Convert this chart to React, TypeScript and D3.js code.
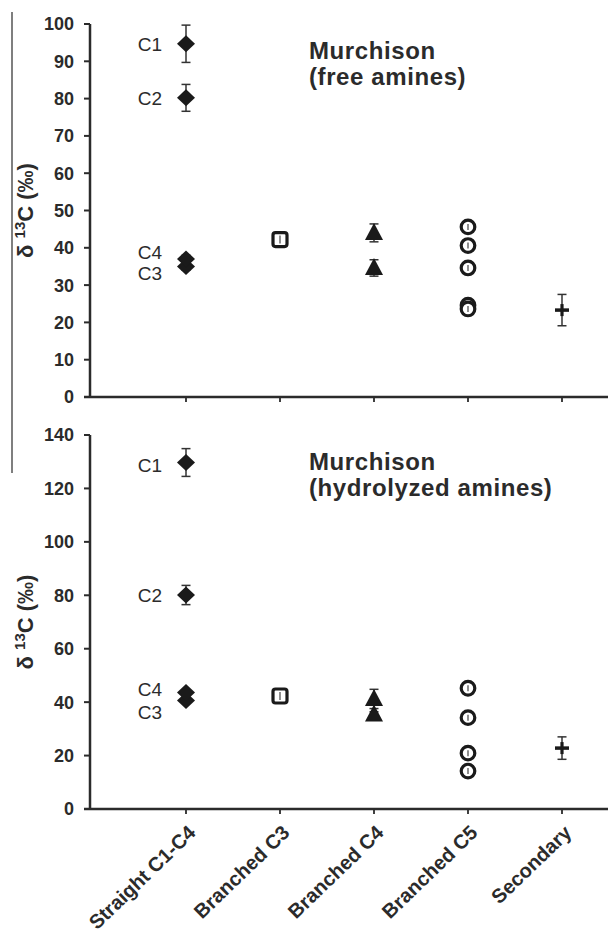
import React from "react";
import * as d3 from "d3";

const categories = ["Straight C1-C4", "Branched C3", "Branched C4", "Branched C5", "Secondary"];
const markerShapes = ["diamond", "square", "triangle", "circle", "plus"];

// Panel 1: free amines
const freeTitle = ["Murchison", "(free amines)"];
const freeTicks = [0, 10, 20, 30, 40, 50, 60, 70, 80, 90, 100];
const freeStraightLabels = ["C1", "C2", "C3", "C4"];
const freeStraightValues = [94.7, 80.2, 35.0, 37.0];
const freeStraightErr = [5.0, 3.6, 1.0, 1.0];
const freeStraightLabelAt = [94.7, 80.2, 33.2, 38.9];
const freeBranchedC3 = [42.2];
const freeBranchedC3Err = [1.0];
const freeBranchedC4 = [44.0, 34.6];
const freeBranchedC4Err = [2.4, 2.2];
const freeBranchedC5 = [45.6, 40.6, 34.6, 24.6, 23.6];
const freeBranchedC5Err = [0.8, 0.8, 0.8, 0.8, 0.8];
const freeSecondary = [23.3];
const freeSecondaryErr = [4.2];

// Panel 2: hydrolyzed amines
const hydTitle = ["Murchison", "(hydrolyzed amines)"];
const hydTicks = [0, 20, 40, 60, 80, 100, 120, 140];
const hydStraightLabels = ["C1", "C2", "C3", "C4"];
const hydStraightValues = [129.7, 80.1, 40.6, 43.6];
const hydStraightErr = [5.2, 3.6, 1.0, 1.0];
const hydStraightLabelAt = [128.8, 79.9, 36.3, 44.9];
const hydBranchedC3 = [42.3];
const hydBranchedC3Err = [1.0];
const hydBranchedC4 = [41.2, 35.4];
const hydBranchedC4Err = [3.6, 1.0];
const hydBranchedC5 = [45.2, 34.2, 20.9, 14.2];
const hydBranchedC5Err = [0.8, 0.8, 0.8, 0.8];
const hydSecondary = [22.8];
const hydSecondaryErr = [4.2];

const FONT = "'Liberation Sans', Arial, sans-serif";
const INK = "#2b2b2b";

type Panel = {
  title: string[];
  ticks: number[];
  max: number;
  yTop: number;
  yBottom: number;
  labels: string[];
  labelAt: number[];
  groups: { values: number[]; errs: number[] }[];
};

const panels: Panel[] = [
  {
    title: freeTitle,
    ticks: freeTicks,
    max: 100,
    yTop: 24,
    yBottom: 397,
    labels: freeStraightLabels,
    labelAt: freeStraightLabelAt,
    groups: [
      { values: freeStraightValues, errs: freeStraightErr },
      { values: freeBranchedC3, errs: freeBranchedC3Err },
      { values: freeBranchedC4, errs: freeBranchedC4Err },
      { values: freeBranchedC5, errs: freeBranchedC5Err },
      { values: freeSecondary, errs: freeSecondaryErr },
    ],
  },
  {
    title: hydTitle,
    ticks: hydTicks,
    max: 140,
    yTop: 435,
    yBottom: 809,
    labels: hydStraightLabels,
    labelAt: hydStraightLabelAt,
    groups: [
      { values: hydStraightValues, errs: hydStraightErr },
      { values: hydBranchedC3, errs: hydBranchedC3Err },
      { values: hydBranchedC4, errs: hydBranchedC4Err },
      { values: hydBranchedC5, errs: hydBranchedC5Err },
      { values: hydSecondary, errs: hydSecondaryErr },
    ],
  },
];

const AXIS_X = 90;
const x = d3.scalePoint<string>().domain(categories).range([186, 562]);

function Marker({ shape, cx, cy }: { shape: string; cx: number; cy: number }) {
  if (shape === "diamond") {
    return <path d={`M${cx},${cy - 8.5}L${cx + 9},${cy}L${cx},${cy + 8.5}L${cx - 9},${cy}Z`} fill="#1a1a1a" />;
  }
  if (shape === "square") {
    return (
      <g>
        <rect x={cx - 7} y={cy - 7} width={14} height={14} rx={2.5} fill="#fff" stroke="#1a1a1a" strokeWidth={3.2} />
        <line x1={cx} x2={cx} y1={cy - 4} y2={cy + 4} stroke="#444" strokeWidth={1.2} />
      </g>
    );
  }
  if (shape === "triangle") {
    return <path d={`M${cx},${cy - 10}L${cx + 9},${cy + 7}L${cx - 9},${cy + 7}Z`} fill="#1a1a1a" />;
  }
  if (shape === "circle") {
    return (
      <g>
        <circle cx={cx} cy={cy} r={6.8} fill="#fff" stroke="#1a1a1a" strokeWidth={3.2} />
        <line x1={cx} x2={cx} y1={cy - 3} y2={cy + 3} stroke="#444" strokeWidth={1.2} />
      </g>
    );
  }
  return (
    <g>
      <line x1={cx - 7} x2={cx + 7} y1={cy} y2={cy} stroke="#1a1a1a" strokeWidth={3.5} />
      <line x1={cx} x2={cx} y1={cy - 6} y2={cy + 6} stroke="#1a1a1a" strokeWidth={3.2} />
    </g>
  );
}

function PanelView({ p }: { p: Panel }) {
  const y = d3.scaleLinear().domain([0, p.max]).range([p.yBottom, p.yTop]);
  const midY = (p.yTop + p.yBottom) / 2;
  return (
    <g>
      {/* y axis */}
      <line x1={AXIS_X} x2={AXIS_X} y1={y(p.max)} y2={y(0)} stroke={INK} strokeWidth={2.5} />
      {p.ticks.map((t) => (
        <g key={t}>
          <line x1={AXIS_X - 6} x2={AXIS_X} y1={y(t)} y2={y(t)} stroke={INK} strokeWidth={2} />
          <text
            x={74}
            y={y(t)}
            dy="0.36em"
            textAnchor="end"
            fontFamily={FONT}
            fontWeight="bold"
            fontSize={18}
            fill={INK}
          >
            {t}
          </text>
        </g>
      ))}
      {/* x axis */}
      <line x1={AXIS_X - 6} x2={608} y1={y(0)} y2={y(0)} stroke={INK} strokeWidth={2.5} />
      {categories.map((c) => (
        <line key={c} x1={x(c)!} x2={x(c)!} y1={y(0)} y2={y(0) + 5} stroke={INK} strokeWidth={1.8} />
      ))}
      {/* y label */}
      <text
        transform={`translate(33,${midY}) rotate(-90)`}
        textAnchor="middle"
        fontFamily={FONT}
        fontWeight="bold"
        fontSize={22}
        fill={INK}
      >
        δ <tspan fontSize={15} dy={-8}>13</tspan>
        <tspan dy={8}>C (‰)</tspan>
      </text>
      {/* title */}
      <text x={309} y={p.yTop + 35} fontFamily={FONT} fontWeight="bold" fontSize={24} letterSpacing={0.6} fill={INK}>
        <tspan x={309}>{p.title[0]}</tspan>
        <tspan x={309} dy={26}>{p.title[1]}</tspan>
      </text>
      {/* data */}
      {p.groups.map((g, gi) =>
        g.values.map((v, i) => {
          const cx = x(categories[gi])!;
          const cy = y(v);
          const e = g.errs[i];
          return (
            <g key={`${gi}-${i}`}>
              <line x1={cx} x2={cx} y1={y(v + e)} y2={y(v - e)} stroke="#333" strokeWidth={1.5} />
              <line x1={cx - 4.5} x2={cx + 4.5} y1={y(v + e)} y2={y(v + e)} stroke="#333" strokeWidth={1.5} />
              <line x1={cx - 4.5} x2={cx + 4.5} y1={y(v - e)} y2={y(v - e)} stroke="#333" strokeWidth={1.5} />
              <Marker shape={markerShapes[gi]} cx={cx} cy={cy} />
            </g>
          );
        })
      )}
      {/* point labels */}
      {p.labels.map((l, i) => (
        <text
          key={l}
          x={162}
          y={y(p.labelAt[i])}
          dy="0.36em"
          textAnchor="end"
          fontFamily={FONT}
          fontSize={19}
          fill={INK}
        >
          {l}
        </text>
      ))}
    </g>
  );
}

export default function App() {
  const bottomY = panels[1].yBottom;
  return (
    <svg
      width={608}
      height={937}
      viewBox="0 0 608 937"
      style={{ position: "absolute", left: 0, top: 0, background: "#fff" }}
    >
      <rect x={0} y={0} width={608} height={937} fill="#fff" />
      <line x1={12} x2={12} y1={12} y2={473} stroke="#555" strokeWidth={1.5} />
      {panels.map((p, i) => (
        <PanelView key={i} p={p} />
      ))}
      {categories.map((c) => (
        <text
          key={c}
          transform={`translate(${x(c)! + 6},${bottomY + 20}) rotate(-44)`}
          textAnchor="end"
          dy="0.35em"
          fontFamily={FONT}
          fontWeight="bold"
          fontSize={20}
          fill={INK}
        >
          {c}
        </text>
      ))}
    </svg>
  );
}
